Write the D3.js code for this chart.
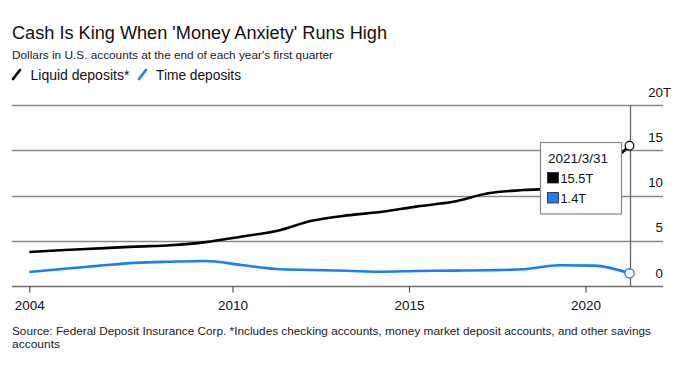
<!DOCTYPE html>
<html>
<head>
<meta charset="utf-8">
<script src="https://cdn.jsdelivr.net/npm/d3@7"></script>
<style>
  html, body { margin: 0; padding: 0; background: #fff; }
  svg { display: block; font-family: "Liberation Sans", Arial, Helvetica, sans-serif; }
</style>
</head>
<body>
<svg id="chart" width="680" height="374"></svg>
<script>
// ---- Data (trillions of dollars, end of Q1 each year) ----
const dates = ["2004-03-31","2005-03-31","2006-03-31","2007-03-31","2008-03-31","2009-03-31",
  "2010-03-31","2011-03-31","2012-03-31","2013-03-31","2014-03-31","2015-03-31","2016-03-31",
  "2017-03-31","2018-03-31","2019-03-31","2020-03-31","2021-03-31"];
const liquidDeposits = [3.76,3.98,4.16,4.35,4.5,4.85,5.45,6.08,7.2,7.8,8.2,8.8,9.3,10.25,10.6,10.8,12.3,15.5];
const timeDeposits   = [1.55,1.9,2.25,2.55,2.68,2.76,2.32,1.88,1.77,1.68,1.58,1.66,1.7,1.74,1.85,2.3,2.25,1.4];
const yTicks = [0,5,10,15,20];
const xTickDates = ["2004-03-31","2010-01-01","2015-01-01","2020-01-01"];
const xTickLabels = ["2004","2010","2015","2020"];
const seriesNames = ["Liquid deposits*","Time deposits"];
const tooltipDate = "2021/3/31";
const tooltipValues = ["15.5T","1.4T"];

const colors = { liquid: "#000000", time: "#1a7ff5", grid: "#8a8a8a", axis: "#6e6e6e", text: "#111" };

const parse = d3.timeParse("%Y-%m-%d");
const parsedDates = dates.map(parse);
const svg = d3.select("#chart");

// text fitting helper
function fit(sel, w) {
  const n = sel.node();
  const cur = n.getComputedTextLength();
  if (Math.abs(cur - w) > 1) {
    sel.attr("textLength", w).attr("lengthAdjust", "spacingAndGlyphs");
  }
  return sel;
}

// ---- Header ----
fit(svg.append("text").attr("x", 12).attr("y", 38.5).attr("font-size", 17.5).attr("fill", colors.text)
  .text("Cash Is King When 'Money Anxiety' Runs High"), 375);
fit(svg.append("text").attr("x", 12).attr("y", 58.5).attr("font-size", 11.3).attr("fill", "#222")
  .text("Dollars in U.S. accounts at the end of each year's first quarter"), 321);

// legend
svg.append("line").attr("x1", 13).attr("y1", 79).attr("x2", 20).attr("y2", 70)
  .attr("stroke", colors.liquid).attr("stroke-width", 2.6).attr("stroke-linecap", "round");
fit(svg.append("text").attr("x", 30.5).attr("y", 79.5).attr("font-size", 14).attr("fill", colors.text)
  .text(seriesNames[0]), 99);
svg.append("line").attr("x1", 139).attr("y1", 79).attr("x2", 146).attr("y2", 70)
  .attr("stroke", colors.time).attr("stroke-width", 2.6).attr("stroke-linecap", "round");
fit(svg.append("text").attr("x", 156).attr("y", 79.5).attr("font-size", 14).attr("fill", colors.text)
  .text(seriesNames[1]), 85);

// ---- Scales ----
const x = d3.scaleTime().domain([parsedDates[0], parsedDates[parsedDates.length - 1]]).range([29.3, 629.5]);
const y = d3.scaleLinear().domain([0, 20]).range([286, 105]);
const plotLeft = 12, plotRight = 663;

// gridlines
const grid = svg.append("g");
grid.selectAll("line").data(yTicks.filter(d => d > 0)).join("line")
  .attr("x1", plotLeft).attr("x2", plotRight)
  .attr("y1", d => Math.round(y(d)) + 0.5).attr("y2", d => Math.round(y(d)) + 0.5)
  .attr("stroke", colors.grid).attr("stroke-width", 1.3);

// y labels
const yl = svg.append("g").attr("font-size", 13.3).attr("fill", colors.text);
yTicks.forEach(v => {
  yl.append("text").attr("x", 663).attr("y", y(v) - 8.5).attr("text-anchor", "end").text(v);
  if (v === 20) {
    yl.append("text").attr("x", 663).attr("y", y(v) - 8.5).text("T");
  }
});

// crosshair vertical line at last date
const xLast = x(parsedDates[parsedDates.length - 1]);
svg.append("line").attr("x1", Math.round(xLast) + 0.5).attr("x2", Math.round(xLast) + 0.5)
  .attr("y1", y(20)).attr("y2", y(0))
  .attr("stroke", "#666").attr("stroke-width", 1.3);

// x axis baseline
svg.append("line").attr("x1", plotLeft).attr("x2", plotRight)
  .attr("y1", Math.round(y(0)) + 0.5).attr("y2", Math.round(y(0)) + 0.5)
  .attr("stroke", colors.axis).attr("stroke-width", 1.4);

// x axis ticks and labels
const xAxis = d3.axisBottom(x)
  .tickValues(xTickDates.map(parse))
  .tickFormat((d, i) => xTickLabels[i])
  .tickSize(6).tickPadding(8);
const gx = svg.append("g").attr("transform", `translate(0,${Math.round(y(0)) + 0.5})`).call(xAxis);
gx.select(".domain").remove();
gx.selectAll(".tick line").attr("stroke", "#555").attr("stroke-width", 1.2);
gx.selectAll(".tick text").attr("font-size", 13.5).attr("fill", colors.text)
  .attr("font-family", "Liberation Sans, Arial, sans-serif");

// ---- Lines ----
const line = d3.line().x((d, i) => x(parsedDates[i])).y(d => y(d)).curve(d3.curveMonotoneX);
svg.append("path").datum(timeDeposits).attr("d", line).attr("fill", "none")
  .attr("stroke", colors.time).attr("stroke-width", 2.6).attr("stroke-linejoin", "round");
svg.append("path").datum(liquidDeposits).attr("d", line).attr("fill", "none")
  .attr("stroke", colors.liquid).attr("stroke-width", 2.6).attr("stroke-linejoin", "round");

// end circles
const lastI = dates.length - 1;
svg.append("circle").attr("cx", xLast).attr("cy", y(liquidDeposits[lastI])).attr("r", 4.3)
  .attr("fill", "#fff").attr("stroke", colors.liquid).attr("stroke-width", 1.2);
svg.append("circle").attr("cx", xLast).attr("cy", y(timeDeposits[lastI])).attr("r", 4.6)
  .attr("fill", "#fff").attr("stroke", colors.time).attr("stroke-width", 1.3);

// ---- Tooltip ----
const tip = svg.append("g");
tip.append("rect").attr("x", 540.5).attr("y", 142.5).attr("width", 81).attr("height", 71.5)
  .attr("fill", "#fff").attr("stroke", "#888").attr("stroke-width", 1.2);
fit(tip.append("text").attr("x", 548).attr("y", 162.5).attr("font-size", 13.5).attr("fill", colors.text)
  .text(tooltipDate), 61);
[colors.liquid, colors.time].forEach((c, i) => {
  tip.append("rect").attr("x", 547.5).attr("y", 172.5 + i * 20).attr("width", 11).attr("height", 10.5)
    .attr("fill", c).attr("stroke", "#222").attr("stroke-width", 0.8);
  tip.append("text").attr("x", 560.5).attr("y", 182.5 + i * 20).attr("font-size", 12.8)
    .attr("fill", colors.text).text(tooltipValues[i]);
});

// ---- Footer ----
fit(svg.append("text").attr("x", 12).attr("y", 335).attr("font-size", 11).attr("fill", "#222")
  .text("Source: Federal Deposit Insurance Corp. *Includes checking accounts, money market deposit accounts, and other savings"), 639);
fit(svg.append("text").attr("x", 12).attr("y", 348).attr("font-size", 11).attr("fill", "#222")
  .text("accounts"), 48);
</script>
</body>
</html>
